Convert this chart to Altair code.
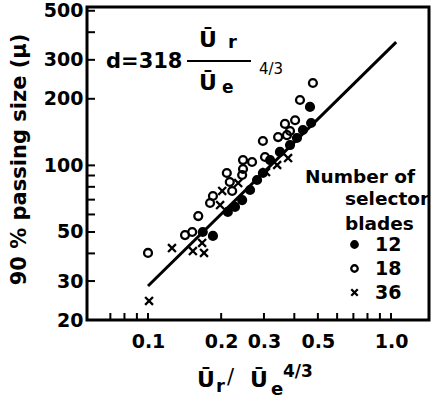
import altair as alt
import pandas as pd

# ---- data ----
open_x = [0.100, 0.142, 0.152, 0.161, 0.180, 0.185, 0.211, 0.217, 0.222, 0.244, 0.246, 0.246,
          0.268, 0.297, 0.303, 0.343, 0.366, 0.373, 0.384, 0.403, 0.422, 0.477]
open_y = [40.2, 48.4, 50.0, 59.0, 67.6, 72.7, 92.4, 84.1, 76.6, 90.5, 105.7, 96.3,
          103.6, 128.9, 109.1, 134.3, 154.0, 137.0, 143.0, 160.0, 197.5, 235.8]
filled_x = [0.168, 0.185, 0.213, 0.228, 0.244, 0.263, 0.281, 0.297, 0.318, 0.349, 0.384,
            0.410, 0.434, 0.469, 0.464]
filled_y = [50.0, 48.0, 61.6, 64.9, 69.7, 77.4, 85.9, 92.4, 105.7, 115.0, 123.6,
            133.0, 144.5, 155.5, 183.7]
cross_x = [0.101, 0.1255, 0.153, 0.167, 0.170, 0.198, 0.202, 0.235, 0.306, 0.340, 0.377]
cross_y = [24.4, 42.3, 41.0, 44.6, 40.2, 66.2, 76.6, 83.2, 93.3, 100.4, 107.9]
fit_x = [0.1, 1.05]
fit_y = [28.5, 361.0]

blade_groups = ["12", "18", "36"]
y_tick_values = [20, 30, 40, 50, 60, 70, 80, 90, 100, 200, 300, 400, 500]
y_label_values = [20, 30, 50, 100, 200, 300, 500]
x_tick_values = [0.07, 0.08, 0.09, 0.1, 0.2, 0.3, 0.4, 0.5, 0.6, 0.7, 0.8, 0.9, 1.0]
x_label_values = [0.1, 0.2, 0.3, 0.5, 1.0]

FONT = "DejaVu Sans"

pts = pd.DataFrame({
    "x": open_x + filled_x + cross_x,
    "y": open_y + filled_y + cross_y,
    "blades": ["18"] * len(open_x) + ["12"] * len(filled_x) + ["36"] * len(cross_x),
})
fit = pd.DataFrame({"x": fit_x, "y": fit_y})
yt = pd.DataFrame({"y": y_tick_values})
xt = pd.DataFrame({"x": x_tick_values})

xscale = alt.Scale(type="log", domain=[0.0561, 1.433], nice=False)
yscale = alt.Scale(type="log", domain=[20, 520], nice=False)

x_axis = alt.Axis(values=x_label_values, format=".1f", ticks=False, domain=False,
                  grid=False, labelFont=FONT, labelFontWeight="bold",
                  labelFontSize=19, labelColor="black", labelPadding=12, title=None)
y_axis = alt.Axis(values=y_label_values, format="d", ticks=False, domain=False,
                  grid=False, labelFont=FONT, labelFontWeight="bold",
                  labelFontSize=19, labelColor="black", labelPadding=4,
                  title="90 % passing size (μ)", titleFont=FONT,
                  titleFontWeight="bold", titleFontSize=21, titleColor="black",
                  titleX=-62, titleY=152, titleAlign="center",
                  titleBaseline="alphabetic", titleAngle=270)


def X(field="x"):
    return alt.X(f"{field}:Q", scale=xscale, axis=x_axis)


def Y(field="y"):
    return alt.Y(f"{field}:Q", scale=yscale, axis=y_axis)


cross_path = "M-1,-1L1,1M-1,1L1,-1"
legend = alt.Legend(title=None, orient="none", legendX=258, legendY=228,
                    symbolSize=42, symbolStrokeWidth=2.3,
                    labelFont=FONT, labelFontWeight="bold", labelFontSize=19,
                    labelColor="black", labelOffset=11, rowPadding=4, padding=0)

points = alt.Chart(pts).mark_point(size=62, strokeWidth=2.3, opacity=1,
                                   filled=True).encode(
    x=X(), y=Y(),
    shape=alt.Shape("blades:N", scale=alt.Scale(domain=blade_groups,
                                                range=["circle", "circle", cross_path]),
                    legend=legend),
    fill=alt.Fill("blades:N", scale=alt.Scale(domain=blade_groups,
                                              range=["black", "transparent", "black"]),
                  legend=legend),
    stroke=alt.Stroke("blades:N", scale=alt.Scale(domain=blade_groups,
                                                  range=["black", "black", "black"]),
                      legend=legend),
)

line = alt.Chart(fit).mark_line(color="black", strokeWidth=3).encode(x=X(), y=Y())

ytick_rules = alt.Chart(yt).mark_rule(color="black", strokeWidth=2).encode(
    y=Y(), x=alt.value(0), x2=alt.value(8))
xtick_rules = alt.Chart(xt).mark_rule(color="black", strokeWidth=2).encode(
    x=X(), y=alt.value(313), y2=alt.value(306))


def txt(s, x, y, size, weight="bold", align="left"):
    return alt.Chart(alt.Data(values=[{}])).mark_text(
        align=align, baseline="alphabetic", font=FONT, fontSize=size,
        fontWeight=weight, color="black").encode(
        x=alt.value(x), y=alt.value(y), text=alt.value(s))


frac_bar = alt.Chart(alt.Data(values=[{}])).mark_rule(color="black", strokeWidth=2).encode(
    x=alt.value(100), x2=alt.value(164), y=alt.value(54))

texts = [
    # formula
    txt("d=318", 19, 61, 21),
    txt("Ū", 112, 40, 22),
    txt("r", 141, 41, 18),
    txt("Ū", 112, 83, 22),
    txt("e", 135, 86, 17),
    txt("4/3", 172, 67, 15, weight="normal"),
    # legend title
    txt("Number of", 218, 176, 18.5),
    txt("selector", 258, 198, 18.5),
    txt("blades", 258, 223, 18.5),
    # x axis title
    txt("Ū", 110, 380, 22),
    txt("r", 129, 385, 18),
    txt("/", 140, 377, 21, weight="normal"),
    txt("Ū", 163, 380, 22),
    txt("e", 184, 388, 18),
    txt("4/3", 196, 370, 17),
]

chart = alt.layer(points, line, ytick_rules, xtick_rules, frac_bar, *texts).properties(
    width=342, height=313,
    background="white",
    autosize=alt.AutoSizeParams(type="none"),
    padding={"left": 87, "top": 7, "right": 3, "bottom": 79},
).configure_view(stroke="black", strokeWidth=3)

chart.save("out.html", embed_options={"renderer": "svg", "actions": False})
